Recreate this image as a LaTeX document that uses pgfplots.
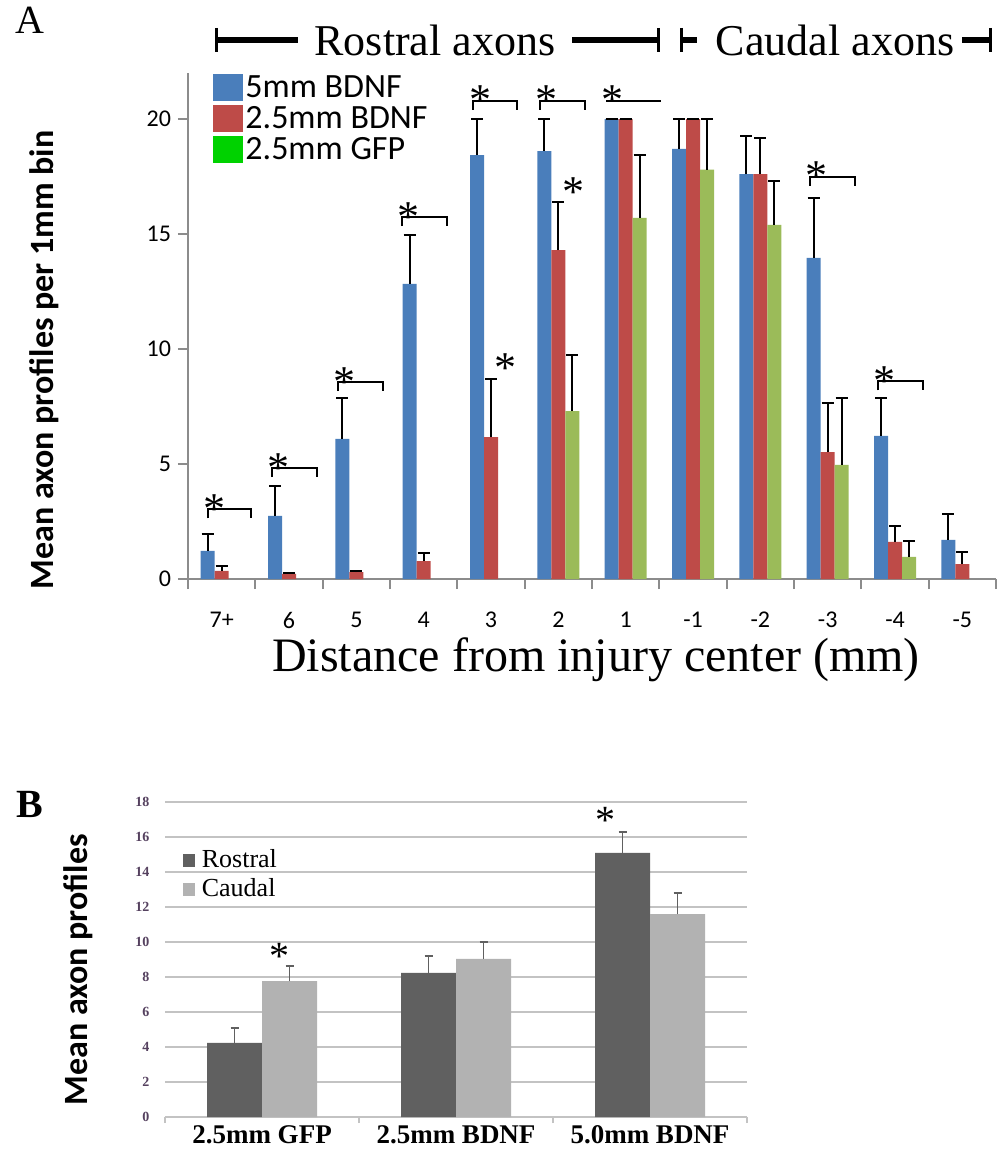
\documentclass[border=0pt]{standalone}
\usepackage{fontspec}
\setmainfont{Liberation Serif}
\newfontfamily\calib{Carlito}
\usepackage{pgfplots}
\pgfplotsset{compat=1.18}
\usepackage{pgfplotstable}

\definecolor{barblue}{RGB}{74,126,187}
\definecolor{barred}{RGB}{190,75,72}
\definecolor{bargreen}{RGB}{155,187,89}
\definecolor{legendgreen}{RGB}{0,210,0}
\definecolor{axisgray}{RGB}{140,140,140}
\definecolor{rostral}{RGB}{96,96,96}
\definecolor{caudal}{RGB}{178,178,178}
\definecolor{gridgray}{RGB}{195,195,195}
\definecolor{ticktxt}{RGB}{85,65,95}

% panel A: mean and upper error per bin
\pgfplotstableread{
idx blue berr red rerr
0  1.22 0.74 0.35 0.22
1  2.74 1.30 0.22 0.03
2  6.09 1.78 0.30 0.05
3  12.83 2.13 0.78 0.35
4  18.43 1.57 6.17 2.53
5  18.60 1.40 14.30 2.10
6  20.00 0.00 20.00 0.00
7  18.70 1.30 20.00 0.00
8  17.60 1.66 17.60 1.57
9  13.96 2.61 5.52 2.13
10 6.22 1.65 1.61 0.69
11 1.70 1.13 0.65 0.52
}\dataA
\pgfplotstableread{
idx green gerr
5  7.30 2.44
6  15.70 2.73
7  17.80 2.20
8  15.40 1.90
9  4.96 2.91
10 0.96 0.69
}\dataG
% panel B
\pgfplotstableread{
idx ros rerr cau cerr
0 4.23 0.86 7.77 0.86
1 8.23 0.97 9.03 0.97
2 15.09 1.20 11.60 1.20
}\dataB

\newcommand\brk[3]{%
  \draw[line width=1pt] (#1,#3-0.4) -- (#1,#3) -- (#2,#3) -- (#2,#3-0.4);
  \node[anchor=north, inner sep=0pt, font=\fontsize{22}{22}\selectfont] at (#1+0.1,#3+0.65) {*};}

\begin{document}
\begin{tikzpicture}
\path[use as bounding box] (0,0) rectangle (501.5pt,-575pt);

% panel letters and top annotation
\node[font=\fontsize{20}{20}\selectfont] at (15pt,-10pt) {A};
\node[font=\fontsize{20}{20}\selectfont\bfseries] at (15pt,-402pt) {B};
\node[font=\fontsize{22}{22}\selectfont] at (217.5pt,-20pt) {Rostral axons};
\node[font=\fontsize{22}{22}\selectfont] at (417.5pt,-20pt) {Caudal axons};
\draw[line width=3pt] (107.5pt,-20pt) -- (149pt,-20pt);
\draw[line width=1.5pt] (108.25pt,-14pt) -- (108.25pt,-26pt);
\draw[line width=3pt] (286pt,-20pt) -- (330pt,-20pt);
\draw[line width=1.5pt] (329.25pt,-14pt) -- (329.25pt,-26pt);
\draw[line width=1.5pt] (340.75pt,-14pt) -- (340.75pt,-26pt);
\draw[line width=3pt] (340pt,-20pt) -- (348.5pt,-20pt);
\draw[line width=3pt] (481pt,-20pt) -- (496pt,-20pt);
\draw[line width=1.5pt] (495.25pt,-14pt) -- (495.25pt,-26pt);

\begin{axis}[
  at={(94pt,-289.5pt)}, anchor=south west,
  scale only axis, width=404pt, height=253pt,
  ybar=0pt, bar width=7pt,
  xmin=-0.5, xmax=11.5, ymin=0, ymax=22,
  axis lines*=left,
  axis line style={draw=axisgray, line width=1pt},
  tick align=outside, major tick length=5pt,
  xtick={0,...,11},
  xticklabels={7+,6,5,4,3,2,1,-1,-2,-3,-4,-5},
  xtick style={draw=none},
  extra x ticks={-0.5,0.5,...,11.5},
  extra x tick labels={},
  extra x tick style={xtick style={draw=axisgray, line width=1pt}},
  ytick={0,5,...,20},
  ytick style={draw=axisgray, line width=1pt},
  /pgf/number format/assume math mode=true,
  ticklabel style={font=\calib\fontsize{12}{12}\selectfont},
  xticklabel style={yshift=-8pt},
  ylabel={Mean axon profiles per 1mm bin},
  every axis y label/.style={at={(axis description cs:-0.178,0.433)}, rotate=90, anchor=center,
    font=\calib\bfseries\fontsize{17}{17}\selectfont},
  xlabel={Distance from injury center (mm)},
  every axis x label/.style={at={(axis description cs:0.505,-0.16)}, anchor=center,
    font=\fontsize{24}{24}\selectfont},
  legend style={at={(axis description cs:0.031,1.0)}, anchor=north west,
    draw=none, fill=none, inner sep=0pt, row sep=1pt,
    font=\calib\fontsize{17}{17}\selectfont,
    nodes={inner sep=1pt, anchor=west}},
  legend cell align=left,
  clip=false,
]
\addplot[fill=barblue, draw=none, bar shift=-7pt,
  legend image code/.code={\fill[barblue] (0pt,-6.75pt) rectangle (15pt,6.75pt);},
  error bars/.cd, y dir=plus, y explicit,
  error bar style={line width=1pt, black},
  error mark options={rotate=90, mark size=3pt, line width=1pt, black}]
  table[x=idx, y=blue, y error=berr] {\dataA};
\addplot[fill=barred, draw=none, bar shift=0pt,
  legend image code/.code={\fill[barred] (0pt,-6.75pt) rectangle (15pt,6.75pt);},
  error bars/.cd, y dir=plus, y explicit,
  error bar style={line width=1pt, black},
  error mark options={rotate=90, mark size=3pt, line width=1pt, black}]
  table[x=idx, y=red, y error=rerr] {\dataA};
\addplot[fill=bargreen, draw=none, bar shift=7pt,
  legend image code/.code={\fill[legendgreen] (0pt,-6.75pt) rectangle (15pt,6.75pt);},
  error bars/.cd, y dir=plus, y explicit,
  error bar style={line width=1pt, black},
  error mark options={rotate=90, mark size=3pt, line width=1pt, black}]
  table[x=idx, y=green, y error=gerr] {\dataG};
\legend{5mm BDNF, 2.5mm BDNF, 2.5mm GFP}

\brk{-0.21}{0.44}{3.04}
\brk{0.75}{1.42}{4.83}
\brk{1.73}{2.40}{8.57}
\brk{2.68}{3.35}{15.74}
\brk{3.74}{4.39}{20.8}
\brk{4.73}{5.39}{20.8}
\brk{8.74}{9.40}{17.5}
\brk{9.75}{10.42}{8.6}
\draw[line width=1pt] (5.71,20.8) -- (6.53,20.8);
\node[anchor=north, inner sep=0pt, font=\fontsize{22}{22}\selectfont] at (5.81,21.45) {*};
\node[anchor=north, inner sep=0pt, font=\fontsize{22}{22}\selectfont] at (4.21,9.83) {*};
\node[anchor=north, inner sep=0pt, font=\fontsize{22}{22}\selectfont] at (5.22,17.48) {*};
\end{axis}

\begin{axis}[
  at={(82.5pt,-558.5pt)}, anchor=south west,
  scale only axis, width=291pt, height=157.5pt,
  ybar=0pt, bar width=27.5pt,
  xmin=-0.5, xmax=2.5, ymin=0, ymax=18,
  axis lines*=left,
  x axis line style={draw=gridgray, line width=1pt},
  y axis line style={draw=none},
  ymajorgrids, grid style={draw=gridgray, line width=1pt},
  tick align=outside,
  xtick={0,1,2},
  xticklabels={2.5mm GFP, 2.5mm BDNF, 5.0mm BDNF},
  xtick style={draw=none},
  extra x ticks={-0.5,0.5,1.5,2.5},
  extra x tick labels={},
  extra x tick style={xtick style={draw=gridgray, line width=1pt}, major tick length=3pt},
  ytick={0,2,...,18},
  ytick style={draw=none},
  /pgf/number format/assume math mode=true,
  yticklabel style={font=\fontsize{7}{7}\selectfont\bfseries, text=ticktxt},
  xticklabel style={font=\fontsize{13.5}{14}\selectfont\bfseries, yshift=3.5pt},
  ylabel={Mean axon profiles},
  every axis y label/.style={at={(axis description cs:-0.149,0.467)}, rotate=90, anchor=center,
    font=\calib\bfseries\fontsize{17}{17}\selectfont},
  legend style={at={(axis description cs:0.03,0.86)}, anchor=north west,
    draw=none, fill=none, inner sep=0pt, row sep=1pt,
    font=\fontsize{13}{13}\selectfont,
    nodes={inner sep=1.5pt, anchor=west}},
  legend cell align=left,
  clip=false,
]
\addplot[fill=rostral, draw=none, bar shift=-13.75pt,
  legend image code/.code={\fill[rostral] (0pt,-3.25pt) rectangle (6pt,3.25pt);},
  error bars/.cd, y dir=plus, y explicit,
  error bar style={line width=0.8pt, rostral},
  error mark options={rotate=90, mark size=2pt, line width=0.8pt, rostral}]
  table[x=idx, y=ros, y error=rerr] {\dataB};
\addplot[fill=caudal, draw=none, bar shift=13.75pt,
  legend image code/.code={\fill[caudal] (0pt,-3.25pt) rectangle (6pt,3.25pt);},
  error bars/.cd, y dir=plus, y explicit,
  error bar style={line width=0.8pt, rostral},
  error mark options={rotate=90, mark size=2pt, line width=0.8pt, rostral}]
  table[x=idx, y=cau, y error=cerr] {\dataB};
\legend{\hspace{2pt}Rostral, \hspace{2pt}Caudal}
\node[anchor=north, inner sep=0pt, font=\fontsize{20}{20}\selectfont] at (0.09,9.95) {*};
\node[anchor=north, inner sep=0pt, font=\fontsize{20}{20}\selectfont] at (1.77,17.7) {*};
\end{axis}
\end{tikzpicture}
\end{document}
